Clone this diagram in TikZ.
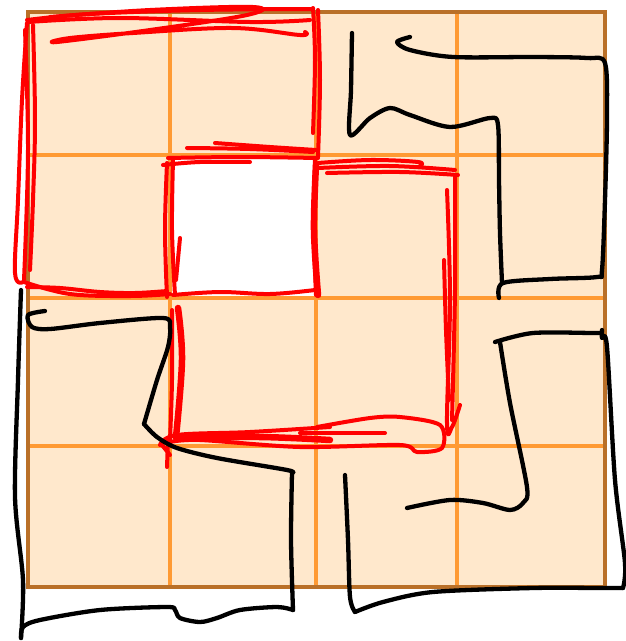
\documentclass[tikz,border=0pt]{standalone}
\definecolor{cellfill}{HTML}{FFE8CC}
\definecolor{gridline}{HTML}{FF9A33}
\definecolor{gridborder}{HTML}{BA7028}
\definecolor{pen}{HTML}{FF0000}
\tikzset{
  redpen/.style={draw=pen, line width=4pt, line cap=round, line join=round},
  thickred/.style={draw=pen, line width=6.5pt, line cap=round, line join=round},
  blackpen/.style={draw=black, line width=4.3pt, line cap=round, line join=round},
  gridstroke/.style={draw=gridline, line width=4.5pt},
}
\begin{document}
\begin{tikzpicture}[x=1pt,y=-1pt]
\useasboundingbox (0,0) rectangle (625,641);
% board
\fill[cellfill] (28,12) rectangle (605,587);
\fill[white] (170,155) rectangle (316,298);
\foreach \x in {170,316,457} \draw[gridstroke] (\x,12) -- (\x,587);
\foreach \y in {155,298,446} \draw[gridstroke] (28,\y) -- (605,\y);
\draw[gridborder, line width=4.5pt] (28,12) rectangle (605,587);

% ---- red shape 1 (top-left L) ----
\draw[redpen] plot[smooth, tension=0.6] coordinates {(27,20) (90,14) (200,10) (313,9)};
\draw[redpen] plot[smooth, tension=0.6] coordinates {(50,17) (150,10) (253,7) (247,15) (150,30) (57,42) (70,38) (133,33) (233,28) (300,35) (305,32)};
\draw[redpen] plot[smooth, tension=0.6] coordinates {(28,22) (120,18) (250,22) (310,20)};
\draw[redpen] plot[smooth, tension=0.6] coordinates {(313,8) (315,60) (313,133)};
\draw[redpen] plot[smooth, tension=0.6] coordinates {(318,10) (320,80) (318,157)};
\draw[redpen] plot[smooth, tension=0.6] coordinates {(27,23) (22,100) (18,200) (15,273) (23,282)};
\draw[redpen] plot[smooth, tension=0.6] coordinates {(33,25) (35,120) (33,200) (30,270)};
\draw[redpen] plot[smooth, tension=0.6] coordinates {(25,30) (28,150) (24,280)};
\draw[redpen] plot[smooth, tension=0.6] coordinates {(27,287) (60,288) (100,292) (135,293) (167,291)};
\draw[redpen] plot[smooth, tension=0.6] coordinates {(24,282) (70,294) (130,296) (170,294)};
% white cell outline
\draw[redpen] plot[smooth, tension=0.6] coordinates {(163,165) (200,162) (250,162)};
\draw[redpen] plot[smooth, tension=0.6] coordinates {(187,148) (250,149) (313,152)};
\draw[redpen] plot[smooth, tension=0.6] coordinates {(215,143) (270,147) (316,150)};
\draw[redpen] plot[smooth, tension=0.6] coordinates {(168,158) (240,157) (318,158)};
\draw[redpen] plot[smooth, tension=0.6] coordinates {(167,163) (165,230) (167,297)};
\draw[redpen] plot[smooth, tension=0.6] coordinates {(173,160) (172,230) (175,295)};
\draw[redpen] plot[smooth, tension=0.6] coordinates {(180,238) (176,280)};
\draw[redpen] plot[smooth, tension=0.6] coordinates {(315,160) (314,230) (316,295)};
\draw[redpen] plot[smooth, tension=0.6] coordinates {(173,295) (220,292) (270,294) (315,290)};

% ---- red shape 2 (middle L) ----
\draw[redpen] plot[smooth, tension=0.6] coordinates {(318,163) (370,160) (418,162) (420,166)};
\draw[redpen] plot[smooth, tension=0.6] coordinates {(327,173) (400,172) (458,175)};
\draw[redpen] plot[smooth, tension=0.6] coordinates {(318,168) (390,166) (455,170)};
\draw[thickred] plot[smooth, tension=0.6] coordinates {(316,165) (314,230) (318,295)};
\draw[redpen] plot[smooth, tension=0.6] coordinates {(447,190) (450,300) (447,423) (452,427) (460,405)};
\draw[redpen] plot[smooth, tension=0.6] coordinates {(455,175) (455,290) (452,420)};
\draw[redpen] plot[smooth, tension=0.6] coordinates {(444,260) (446,330) (449,400)};
\draw[redpen] plot[smooth, tension=0.5] coordinates {(317,427) (370,418) (400,417) (440,425) (442,448) (417,452) (400,445) (300,447) (200,440) (170,442)};
\draw[redpen] plot[smooth, tension=0.6] coordinates {(300,433) (385,433)};
\draw[redpen] plot[smooth, tension=0.6] coordinates {(160,445) (177,435) (250,432) (330,427)};
\draw[thickred] plot[smooth, tension=0.6] coordinates {(176,438) (260,437) (330,440)};
\draw[thickred] plot[smooth, tension=0.6] coordinates {(178,308) (182,360) (176,437)};
\draw[redpen] plot[smooth, tension=0.6] coordinates {(172,310) (172,380) (170,440)};
\draw[redpen] plot[smooth, tension=0.6] coordinates {(168,440) (167,467)};
\draw[redpen] plot[smooth, tension=0.6] coordinates {(162,445) (170,455)};

% ---- black shape top-right ----
\draw[blackpen] plot[smooth, tension=0.5] coordinates {(352,33) (351,90) (350,135) (370,118) (390,108) (410,115) (450,127) (490,118) (498,125) (499,180) (500,233) (502,283)};
\draw[blackpen] plot[smooth, tension=0.5] coordinates {(499,298) (503,283) (550,279) (597,277) (602,270) (605,200) (607,117) (605,63) (587,58) (533,57) (453,57) (410,50) (397,42) (410,37)};

% ---- black shape bottom-left ----
\draw[blackpen] plot[smooth, tension=0.5] coordinates {(45,311) (28,315) (32,327) (50,329) (100,323) (163,318) (170,327) (168,347) (157,380) (144,424)};
\draw[blackpen] plot[smooth, tension=0.5] coordinates {(144,424) (157,437) (177,448) (217,458) (287,470) (292,473)};
\draw[blackpen] plot[smooth, tension=0.5] coordinates {(292,473) (291,540) (293,610)};
\draw[blackpen] plot[smooth, tension=0.5] coordinates {(293,610) (277,607) (240,610) (217,618) (200,622) (180,618) (175,610) (167,607) (100,610) (40,620) (23,627) (21,638)};
\draw[blackpen] plot[smooth, tension=0.5] coordinates {(21,638) (23,580) (15,497) (18,380) (21,290)};

% ---- black shape bottom-right ----
\draw[blackpen] plot[smooth, tension=0.5] coordinates {(345,475) (348,540) (350,597) (355,612)};
\draw[blackpen] plot[smooth, tension=0.5] coordinates {(355,612) (383,602) (433,592) (533,588) (600,588) (623,588)};
\draw[blackpen] plot[smooth, tension=0.5] coordinates {(623,588) (625,563) (615,480) (607,347) (602,338) (602,330)};
\draw[blackpen] plot[smooth, tension=0.5] coordinates {(602,333) (593,333) (533,333) (495,342)};
\draw[blackpen] plot[smooth, tension=0.5] coordinates {(500,342) (510,403) (527,487) (523,503) (510,510) (483,503) (450,500) (407,508)};
\end{tikzpicture}
\end{document}
